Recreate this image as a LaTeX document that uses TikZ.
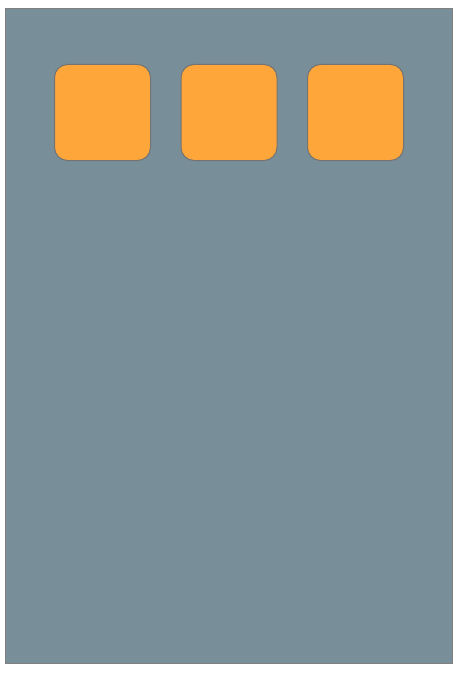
\documentclass[tikz,border=0pt]{standalone}
\usepackage{tikz}
\usetikzlibrary{positioning}
\definecolor{slate}{HTML}{788E99}
\definecolor{amber}{HTML}{FFA63A}
\tikzset{panel/.style={draw=black!50, fill=slate, inner sep=0pt},
         button/.style={draw=black!55, line width=1pt, fill=amber, rounded corners=13pt, minimum size=96pt, inner sep=0pt}}

\begin{document}
\begin{tikzpicture}[x=1pt, y=-1pt]
\useasboundingbox (0,0) rectangle (458,674);
\node (board) [panel, minimum width=447pt, minimum height=655pt] at (228.5,335.5) {};

\node (b1) [button] at (102.5,112.5) {};
\node (b2) [button, right=29.5pt of b1] {};
\node (b3) [button, right=29.5pt of b2] {};
\end{tikzpicture}
\end{document}
